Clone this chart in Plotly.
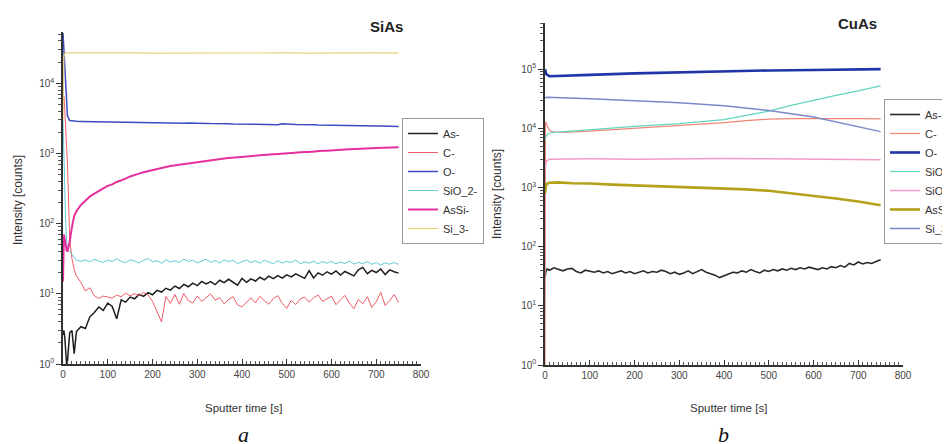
import plotly.graph_objects as go

W, H = 950, 444

# ---------------- Panel a (SiAs) ----------------
t_a = [0, 2, 4, 6, 8, 10, 15, 20, 25, 30,
       40, 50, 60, 70, 80, 90, 100, 110, 120, 130,
       140, 150, 160, 170, 180, 190, 200, 210, 220, 230,
       240, 250, 260, 270, 280, 290, 300, 310, 320, 330,
       340, 350, 360, 370, 380, 390, 400, 410, 420, 430,
       440, 450, 460, 470, 480, 490, 500, 510, 520, 530,
       540, 550, 560, 570, 580, 590, 600, 610, 620, 630,
       640, 650, 660, 670, 680, 690, 700, 710, 720, 730,
       740, 750]

a_as = [2.6, 3.0, 2.4, 1.6, 1.0, 1.1, 2.8, 3.0, 1.4, 2.9,
        3.4, 3.2, 4.7, 5.4, 6.5, 5.8, 7.4, 6.6, 4.4, 8.2,
        7.6, 9.0, 8.5, 9.8, 9.2, 10.4, 9.7, 11.2, 10.6, 12.0,
        11.3, 12.9, 11.9, 13.6, 12.6, 14.2, 13.1, 15.0, 13.8, 14.9,
        13.5, 15.6, 14.4, 16.1, 14.8, 13.3, 16.6, 14.6, 16.3, 15.2,
        17.2, 15.8, 17.9, 16.4, 18.2, 16.7, 18.6, 17.4, 19.3, 17.9,
        16.6, 21.4, 16.8, 19.9, 18.4, 20.6, 19.1, 21.2, 18.5, 20.8,
        19.5, 18.0, 22.0, 23.8, 19.4, 21.6, 20.1, 22.6, 18.8, 21.9,
        20.6, 19.7]

a_c = [5000, 6500, 4200, 2600, 1500, 700, 60, 32, 22, 18,
       14.5, 11.0, 12.2, 9.4, 8.6, 9.3, 9.0, 8.7, 9.6, 9.1,
       10.2, 9.4, 10.0, 9.5, 10.4, 9.7, 7.8, 5.6, 4.0, 9.2,
       7.3, 9.8, 7.1, 10.1, 8.0, 7.4, 9.3, 7.8, 8.9, 10.0,
       8.1, 8.8, 7.2, 8.3, 9.1, 7.0, 6.5, 7.6, 8.8, 7.4,
       9.2, 8.0, 7.1, 8.6, 9.4, 7.3, 6.2, 8.1, 7.0, 8.4,
       9.0, 7.6, 8.8, 9.6, 7.8, 8.5, 9.3, 7.0, 8.2, 9.5,
       7.4, 6.1, 8.3, 7.2, 9.1, 6.4, 7.7, 10.5, 6.8, 8.0,
       9.8, 7.5]

a_o = [52000, 30000, 14000, 7000, 4300, 3400, 2950, 2900, 2880, 2870,
       2860, 2850, 2840, 2855, 2830, 2820, 2835, 2810, 2800, 2815,
       2790, 2780, 2795, 2770, 2760, 2775, 2750, 2740, 2755, 2730,
       2720, 2735, 2710, 2700, 2715, 2690, 2680, 2695, 2670, 2660,
       2675, 2650, 2640, 2655, 2630, 2620, 2635, 2610, 2600, 2615,
       2590, 2580, 2595, 2570, 2560, 2640, 2650, 2600, 2580, 2590,
       2560, 2550, 2565, 2540, 2530, 2545, 2520, 2510, 2525, 2500,
       2490, 2505, 2480, 2470, 2485, 2460, 2450, 2465, 2440, 2430,
       2445, 2420]

a_sio2 = [3000, 800, 250, 100, 60, 45, 40, 36, 32, 30,
          29.0, 30.5, 28.5, 31.0, 29.2, 28.0, 30.2, 28.8, 31.5, 29.0,
          27.8, 30.6, 29.4, 27.5, 30.0, 31.8, 28.6, 29.8, 27.2, 30.4,
          28.4, 29.6, 27.9, 31.2, 28.9, 30.1, 27.6, 29.3, 31.0, 28.1,
          29.9, 27.4, 30.6, 28.7, 30.0, 26.9, 28.8, 30.4, 27.8, 29.5,
          27.1, 30.2, 28.3, 26.8, 29.6, 27.5, 29.0, 27.9, 30.3, 26.9,
          28.6, 27.3, 29.4, 26.6, 28.9, 27.2, 29.1, 26.8, 28.4, 27.0,
          29.3, 26.5, 28.0, 26.9, 28.7, 26.3, 27.8, 25.9, 27.6, 26.4,
          27.9, 26.2]

a_assi = [15, 70, 60, 48, 42, 40, 55, 90, 128, 150,
          185, 212, 243, 268, 296, 318, 345, 362, 392, 410,
          438, 470, 488, 515, 540, 556, 585, 600, 622, 640,
          662, 676, 698, 712, 735, 748, 765, 780, 792, 808,
          820, 838, 846, 862, 874, 884, 898, 905, 918, 930,
          936, 952, 960, 975, 982, 996, 1005, 1012, 1025, 1032,
          1045, 1050, 1068, 1075, 1088, 1094, 1110, 1114, 1128, 1135,
          1146, 1150, 1166, 1170, 1182, 1190, 1198, 1205, 1218, 1212,
          1236, 1228]

t_a_si3 = [0, 2, 5, 50, 100, 150, 200, 250, 300, 350, 400, 450, 500, 550, 600, 650, 700, 750]
a_si3 = [3000, 24000, 27000, 27200, 27000, 27100, 26900, 27000, 27100, 26900,
         27000, 26800, 27000, 26900, 27100, 26900, 27000, 26900]

# ---------------- Panel b (CuAs) ----------------
t_b_as = [0, 2, 5,
          10, 20, 30, 40, 50, 60, 70, 80, 90, 100,
          110, 120, 130, 140, 150, 160, 170, 180, 190, 200,
          210, 220, 230, 240, 250, 260, 270, 280, 290, 300,
          310, 320, 330, 340, 350, 360, 370, 380, 390, 400,
          410, 420, 430, 440, 450, 460, 470, 480, 490, 500,
          510, 520, 530, 540, 550, 560, 570, 580, 590, 600,
          610, 620, 630, 640, 650, 660, 670, 680, 690, 700,
          710, 720, 730, 740, 750]
b_as = [30, 38, 42,
        40, 44, 41, 39, 42, 43, 38, 36, 40, 38,
        37, 39, 36, 38, 35, 37, 39, 36, 38, 35,
        37, 39, 36, 38, 37, 40, 38, 35, 37, 34,
        36, 39, 35, 38, 41, 37, 35, 33, 30, 32,
        35, 37, 36, 39, 37, 41, 38, 36, 40, 38,
        41, 39, 42, 40, 43, 41, 44, 42, 45, 43,
        41, 44, 42, 46, 44, 48, 45, 52, 49, 55,
        51, 54, 52, 56, 60]

t_b_c = [0, 1, 5, 10, 20, 40, 100, 200, 300, 400, 450, 500, 550, 600, 700, 750]
b_c = [1, 13000, 11000, 9300, 8600, 8500, 9000, 10000, 11200, 12500, 13500, 14300, 14600, 14700, 14600, 14400]

t_b_o = [0, 3, 10, 50, 100, 200, 300, 400, 500, 600, 700, 750]
b_o = [100000, 82000, 76000, 77000, 80000, 85000, 89000, 92000, 95000, 97000, 99000, 100000]

t_b_sio2 = [0, 3, 8, 15, 30, 100, 200, 300, 400, 450, 500, 550, 600, 650, 700, 750]
b_sio2 = [6500, 7500, 8200, 8500, 8600, 9500, 10800, 12000, 14000, 16500, 19500, 24500, 30000, 36000, 43000, 52000]

t_b_sio = [0, 3, 10, 100, 200, 300, 400, 500, 600, 700, 750]
b_sio = [2000, 2800, 3000, 3050, 3000, 3050, 3100, 3050, 3000, 3000, 2950]

t_b_assi = [0, 3, 10, 30, 60, 100, 150, 200, 250, 300, 350, 400, 450, 500, 550, 600, 650, 700, 750]
b_assi = [800, 1150, 1200, 1220, 1180, 1170, 1120, 1090, 1060, 1020, 1000, 970, 930, 880, 800, 720, 650, 580, 500]

t_b_si3 = [0, 5, 100, 200, 300, 400, 500, 600, 700, 750]
b_si3 = [33000, 33500, 31500, 29500, 27000, 24000, 20000, 15500, 10800, 8800]

x_ticks = [0, 100, 200, 300, 400, 500, 600, 700, 800]
y_ticks_a = [1, 10, 100, 1000, 10000]
y_ticks_b = [1, 10, 100, 1000, 10000, 100000]
y_text_b = ["10<sup>0</sup>", "10<sup>1</sup>", "10<sup>2</sup>", "10<sup>3</sup>", "10<sup>4</sup>", "10<sup>5</sup>"]

FONT = "Liberation Sans"
OFF = 8  # page body margin of the rendered html

fig = go.Figure()

def add(x, y, name, color, width, xa, ya, legend):
    fig.add_trace(go.Scatter(x=x, y=y, name=name, mode="lines",
                             line=dict(color=color, width=width),
                             xaxis=xa, yaxis=ya, legend=legend))

# panel a traces
add(t_a, a_as, "As-", "#1e1e1e", 1.5, "x", "y", "legend")
add(t_a, a_c, "C-", "#ef5d66", 1.0, "x", "y", "legend")
add(t_a, a_o, "O-", "#3a4cc0", 1.5, "x", "y", "legend")
add(t_a, a_sio2, "SiO_2-", "#62c9d8", 1.0, "x", "y", "legend")
add(t_a, a_assi, "AsSi-", "#e4309c", 2.0, "x", "y", "legend")
add(t_a_si3, a_si3, "Si_3-", "#e6d27e", 1.2, "x", "y", "legend")

# panel b traces
add(t_b_as, b_as, "As-", "#2a2a2a", 1.6, "x2", "y2", "legend2")
add(t_b_c, b_c, "C-", "#f08676", 1.2, "x2", "y2", "legend2")
add(t_b_o, b_o, "O-", "#1f35a8", 2.6, "x2", "y2", "legend2")
add(t_b_sio2, b_sio2, "SiO_2-", "#5fd6bd", 1.2, "x2", "y2", "legend2")
add(t_b_sio, b_sio, "SiO-", "#f39ac8", 1.5, "x2", "y2", "legend2")
add(t_b_assi, b_assi, "AsSi-", "#b5a01a", 2.6, "x2", "y2", "legend2")
add(t_b_si3, b_si3, "Si_3-", "#7b88c8", 1.5, "x2", "y2", "legend2")

def px(xp):
    return (xp - OFF) / W

def py(yp):
    return 1 - (yp - OFF) / H

tickfont = dict(family=FONT, size=10, color="#444")

xcommon = dict(range=[0, 800], tickvals=x_ticks, ticks="inside", ticklen=5,
               tickwidth=1, tickcolor="#333", showline=True, linecolor="#333",
               linewidth=1.5, showgrid=False, zeroline=False, tickfont=tickfont,
               automargin=False,
               minor=dict(ticks="inside", ticklen=3, dtick=10, tickcolor="#555"))

ycommon = dict(type="log", ticks="outside", ticklen=5, tickwidth=1, tickcolor="#333",
               showline=True, linecolor="#333", linewidth=1.5, showgrid=False,
               zeroline=False, tickfont=tickfont, automargin=False,
               minor=dict(ticks="outside", ticklen=3, dtick="D1", tickcolor="#555"))

fig.update_layout(
    width=W, height=H,
    margin=dict(l=0, r=0, t=0, b=0, autoexpand=False),
    paper_bgcolor="white", plot_bgcolor="white",
    showlegend=True,
    xaxis=dict(domain=[px(63), px(421)], anchor="y", **xcommon),
    yaxis=dict(domain=[py(364), py(32)], anchor="x", range=[0, 4.73],
               tickvals=y_ticks_a, ticktext=y_text_b[:5], **ycommon),
    xaxis2=dict(domain=[px(545), px(903)], anchor="y2", **xcommon),
    yaxis2=dict(domain=[py(365), py(23)], anchor="x2", range=[0, 5.78],
                tickvals=y_ticks_b, ticktext=y_text_b, **ycommon),
    legend=dict(x=px(402), y=py(118), xanchor="left", yanchor="top",
                bgcolor="white", bordercolor="#999", borderwidth=1,
                font=dict(family=FONT, size=11, color="#333"),
                tracegroupgap=0, itemwidth=30),
    legend2=dict(x=px(884), y=py(99), xanchor="left", yanchor="top",
                 bgcolor="white", bordercolor="#999", borderwidth=1,
                 font=dict(family=FONT, size=11, color="#333"),
                 tracegroupgap=0, itemwidth=30),
)

annots = [
    dict(text="<b>SiAs</b>", x=px(386), y=py(26), size=15, color="#222", family=FONT, angle=0),
    dict(text="<b>CuAs</b>", x=px(857), y=py(24), size=15, color="#222", family=FONT, angle=0),
    dict(text="Intensity [counts]", x=px(18), y=py(200), size=12, color="#333", family=FONT, angle=-90),
    dict(text="Intensity [counts]", x=px(497), y=py(194), size=12, color="#333", family=FONT, angle=-90),
    dict(text="Sputter time [s]", x=px(243), y=py(408), size=11.5, color="#333", family=FONT, angle=0),
    dict(text="Sputter time [s]", x=px(728), y=py(408), size=11.5, color="#333", family=FONT, angle=0),
    dict(text="<i>a</i>", x=px(243), y=py(434), size=22, color="#111", family="Liberation Serif", angle=0),
    dict(text="<i>b</i>", x=px(723), y=py(434), size=22, color="#111", family="Liberation Serif", angle=0),
]
for a in annots:
    fig.add_annotation(text=a["text"], x=a["x"], y=a["y"], xref="paper", yref="paper",
                       xanchor="center", yanchor="middle", showarrow=False,
                       textangle=a["angle"],
                       font=dict(family=a["family"], size=a["size"], color=a["color"]))

fig.write_html("out.html")
